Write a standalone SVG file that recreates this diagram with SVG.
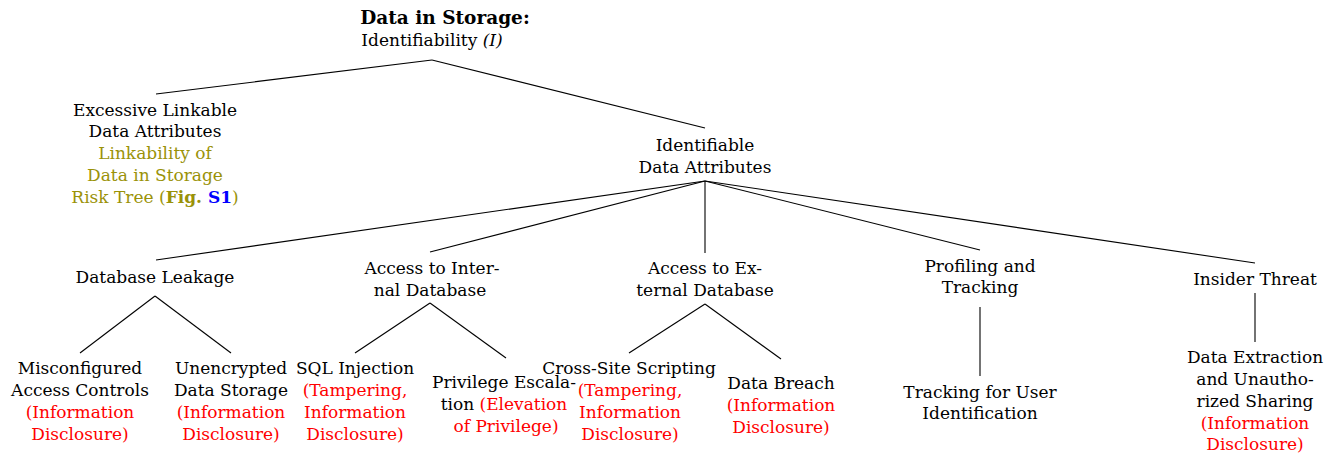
<svg xmlns="http://www.w3.org/2000/svg" width="1340" height="454" viewBox="0 0 1340 454">
<style>
text{font-family:"DejaVu Serif","Liberation Serif",serif;font-size:17px;fill:#000;text-anchor:middle}
.b{font-weight:bold}
.t{font-size:18.5px}
.i{font-style:italic}
.r{fill:#ff0000}
.o{fill:#9a9208}
.bl{fill:#0000ff;font-weight:bold}
.e line{stroke:#000;stroke-width:1.1}
</style>
<rect width="1340" height="454" fill="#fff"/>
<g class="e" id="edges">
<line x1="432" y1="60" x2="156" y2="94"/>
<line x1="432" y1="60" x2="705" y2="128"/>
<line x1="705" y1="181" x2="156" y2="260"/>
<line x1="705" y1="181" x2="430" y2="252"/>
<line x1="705" y1="181" x2="705" y2="253"/>
<line x1="705" y1="181" x2="980" y2="250"/>
<line x1="705" y1="181" x2="1255" y2="263"/>
<line x1="155" y1="296" x2="80" y2="353"/>
<line x1="155" y1="296" x2="231" y2="353"/>
<line x1="430" y1="303" x2="355" y2="353"/>
<line x1="430" y1="303" x2="506" y2="358"/>
<line x1="705" y1="304" x2="629" y2="353"/>
<line x1="705" y1="304" x2="781" y2="359"/>
<line x1="980" y1="307" x2="980" y2="376"/>
<line x1="1255" y1="293" x2="1255" y2="342"/>
</g>
<g id="root">
<text x="445" y="24" class="b t">Data in Storage:</text>
<text x="432" y="46">Identifiability <tspan class="i">(I)</tspan></text>
</g>
<g id="excessive">
<text x="155" y="116">Excessive Linkable</text>
<text x="155" y="137">Data Attributes</text>
<text x="155" y="159" class="o">Linkability of</text>
<text x="155" y="181" class="o">Data in Storage</text>
<text x="155" y="203" class="o">Risk Tree (<tspan class="b">Fig.  </tspan><tspan class="bl">S1</tspan>)</text>
</g>
<g id="identifiable">
<text x="705" y="151">Identifiable</text>
<text x="705" y="173">Data Attributes</text>
</g>
<g id="leakage">
<text x="155" y="283">Database Leakage</text>
</g>
<g id="internal">
<text x="432" y="274">Access to Inter-</text>
<text x="430" y="296">nal Database</text>
</g>
<g id="external">
<text x="705" y="274">Access to Ex-</text>
<text x="705" y="296">ternal Database</text>
</g>
<g id="profiling">
<text x="980" y="272">Profiling and</text>
<text x="980" y="293">Tracking</text>
</g>
<g id="insider">
<text x="1255" y="285">Insider Threat</text>
</g>
<g id="misconfigured">
<text x="80" y="374">Misconfigured</text>
<text x="80" y="396">Access Controls</text>
<text x="80" y="418" class="r">(Information</text>
<text x="80" y="440" class="r">Disclosure)</text>
</g>
<g id="unencrypted">
<text x="231" y="374">Unencrypted</text>
<text x="231" y="396">Data Storage</text>
<text x="231" y="418" class="r">(Information</text>
<text x="231" y="440" class="r">Disclosure)</text>
</g>
<g id="sql">
<text x="355" y="374">SQL Injection</text>
<text x="355" y="396" class="r">(Tampering,</text>
<text x="355" y="418" class="r">Information</text>
<text x="355" y="440" class="r">Disclosure)</text>
</g>
<g id="privilege">
<text x="504" y="388">Privilege Escala-</text>
<text x="504" y="410">tion <tspan class="r">(Elevation</tspan></text>
<text x="506" y="432" class="r">of Privilege)</text>
</g>
<g id="xss">
<text x="629" y="374">Cross-Site Scripting</text>
<text x="630" y="396" class="r">(Tampering,</text>
<text x="630" y="418" class="r">Information</text>
<text x="630" y="440" class="r">Disclosure)</text>
</g>
<g id="breach">
<text x="781" y="389">Data Breach</text>
<text x="781" y="411" class="r">(Information</text>
<text x="781" y="433" class="r">Disclosure)</text>
</g>
<g id="tracking">
<text x="980" y="398">Tracking for User</text>
<text x="980" y="419">Identification</text>
</g>
<g id="extraction">
<text x="1255" y="363">Data Extraction</text>
<text x="1255" y="385">and Unautho-</text>
<text x="1255" y="407">rized Sharing</text>
<text x="1255" y="429" class="r">(Information</text>
<text x="1255" y="450" class="r">Disclosure)</text>
</g>
</svg>
